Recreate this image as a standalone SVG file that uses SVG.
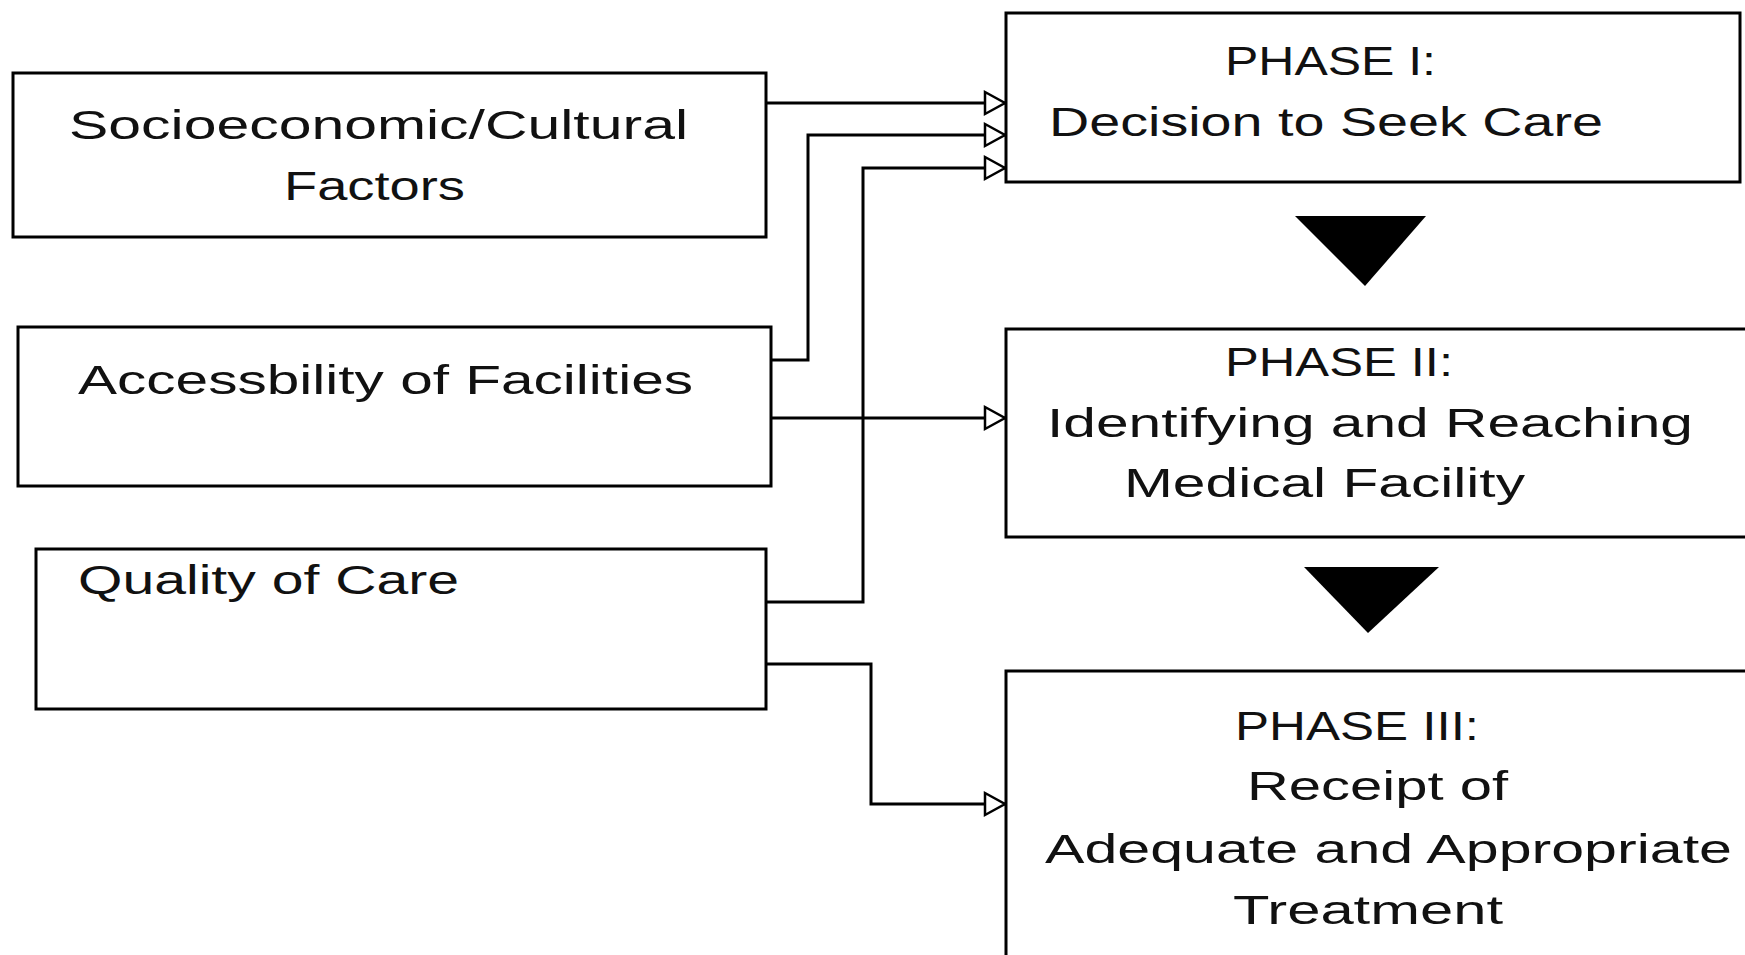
<svg xmlns="http://www.w3.org/2000/svg" width="1745" height="955" viewBox="0 0 1745 955">
<style>
.box{fill:#fff;stroke:#000;stroke-width:3}
.t{font-family:"Liberation Sans",Arial,sans-serif;font-size:40px;fill:#111}
.c{fill:none;stroke:#000;stroke-width:3}
.tri{fill:#000}
</style>
<defs>
<marker id="open" markerUnits="userSpaceOnUse" markerWidth="26" markerHeight="28" viewBox="-3 -3 26 28" refX="20" refY="11" orient="auto">
<path d="M0,0 L20,11 L0,22 Z" fill="#fff" stroke="#000" stroke-width="2.5"/>
</marker>
</defs>
<rect width="1745" height="955" fill="#fff"/>
<g id="connectors">
<path class="c" d="M766,103 H1005" marker-end="url(#open)"/>
<path class="c" d="M770,360 H808 V135 H1005" marker-end="url(#open)"/>
<path class="c" d="M766,602 H863 V168 H1005" marker-end="url(#open)"/>
<path class="c" d="M770,418 H1005" marker-end="url(#open)"/>
<path class="c" d="M766,664 H871 V804 H1005" marker-end="url(#open)"/>
<polygon class="tri" points="1295,216 1426,216 1365,286"/>
<polygon class="tri" points="1304,567 1439,567 1368,633"/>
</g>
<g id="socio">
<rect class="box" x="13" y="73" width="753" height="164"/>
<text class="t" x="69" y="139" textLength="619" lengthAdjust="spacingAndGlyphs">Socioeconomic/Cultural</text>
<text class="t" x="284" y="200" textLength="181" lengthAdjust="spacingAndGlyphs">Factors</text>
</g>
<g id="access">
<rect class="box" x="18" y="327" width="753" height="159"/>
<text class="t" x="78" y="394" textLength="615" lengthAdjust="spacingAndGlyphs">Accessbility of Facilities</text>
</g>
<g id="quality">
<rect class="box" x="36" y="549" width="730" height="160"/>
<text class="t" x="78" y="594" textLength="381" lengthAdjust="spacingAndGlyphs">Quality of Care</text>
</g>
<g id="phase1">
<rect class="box" x="1006" y="13" width="734" height="169"/>
<text class="t" x="1225" y="75" textLength="211" lengthAdjust="spacingAndGlyphs">PHASE I:</text>
<text class="t" x="1049" y="136" textLength="554" lengthAdjust="spacingAndGlyphs">Decision to Seek Care</text>
</g>
<g id="phase2">
<rect class="box" x="1006" y="329" width="760" height="208"/>
<text class="t" x="1225" y="376" textLength="228" lengthAdjust="spacingAndGlyphs">PHASE II:</text>
<text class="t" x="1047" y="437" textLength="646" lengthAdjust="spacingAndGlyphs">Identifying and Reaching</text>
<text class="t" x="1124" y="497" textLength="401" lengthAdjust="spacingAndGlyphs">Medical Facility</text>
</g>
<g id="phase3">
<rect class="box" x="1006" y="671" width="760" height="300"/>
<text class="t" x="1235" y="740" textLength="244" lengthAdjust="spacingAndGlyphs">PHASE III:</text>
<text class="t" x="1247" y="800" textLength="261" lengthAdjust="spacingAndGlyphs">Receipt of</text>
<text class="t" x="1045" y="863" textLength="687" lengthAdjust="spacingAndGlyphs">Adequate and Appropriate</text>
<text class="t" x="1233" y="924" textLength="270" lengthAdjust="spacingAndGlyphs">Treatment</text>
</g>
</svg>
